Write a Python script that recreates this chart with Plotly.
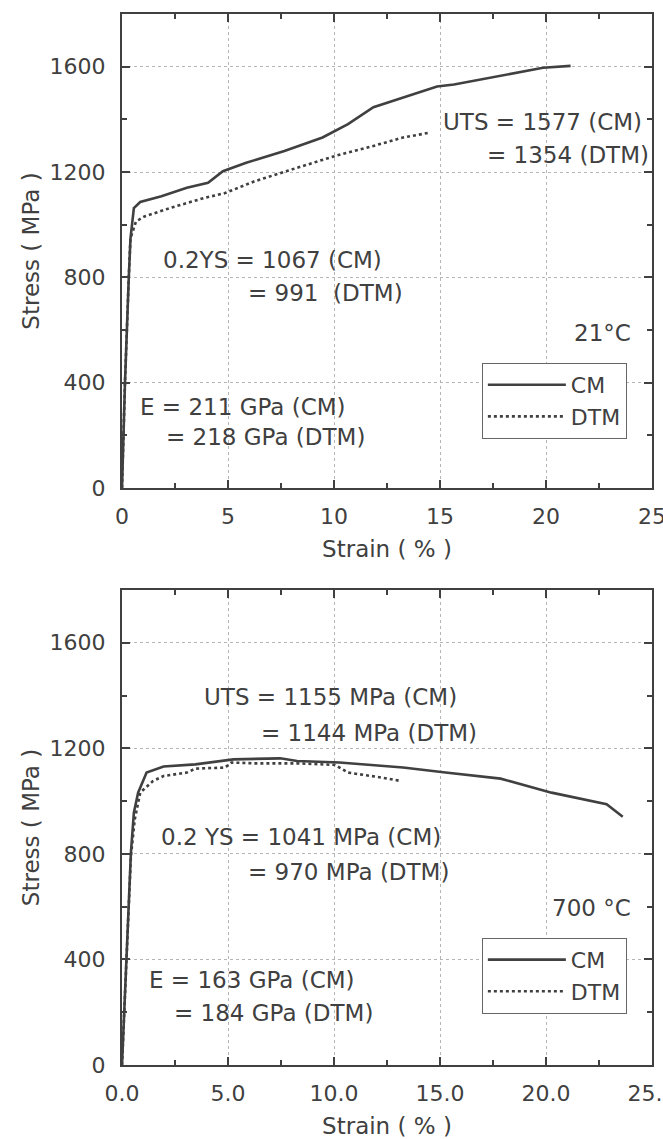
import plotly.graph_objects as go

# ---- data: 21 °C ----
rt_cm_strain = [0.0, 0.14, 0.32, 0.40, 0.56, 0.86, 1.86, 3.06, 4.06, 4.76, 5.86, 7.66, 9.46, 10.66, 11.86, 13.26, 14.86, 15.66, 18.26, 19.86, 21.16]
rt_cm_stress = [0, 400, 800, 948, 1063, 1086, 1108, 1140, 1159, 1203, 1235, 1280, 1331, 1382, 1446, 1484, 1525, 1532, 1573, 1596, 1603]
rt_dtm_strain = [0.0, 0.14, 0.32, 0.40, 0.66, 1.06, 2.26, 3.86, 4.86, 6.26, 8.26, 10.06, 11.86, 13.26, 14.56]
rt_dtm_stress = [0, 400, 800, 948, 1012, 1031, 1063, 1101, 1120, 1165, 1216, 1261, 1299, 1331, 1350]

# ---- data: 700 °C ----
ht_cm_strain = [0.0, 0.2, 0.42, 0.56, 0.76, 1.16, 1.96, 3.46, 5.26, 7.46, 8.26, 10.26, 13.26, 15.26, 17.86, 20.26, 22.86, 23.62]
ht_cm_stress = [0, 400, 804, 956, 1032, 1108, 1131, 1139, 1158, 1162, 1152, 1146, 1127, 1108, 1085, 1032, 988, 941]
ht_dtm_strain = [0.0, 0.2, 0.42, 0.6, 0.86, 1.46, 1.96, 3.06, 3.46, 4.86, 5.16, 6.26, 8.26, 10.06, 10.66, 12.26, 13.16]
ht_dtm_stress = [0, 400, 790, 930, 1032, 1076, 1095, 1108, 1123, 1127, 1146, 1143, 1143, 1137, 1108, 1089, 1076]

series_names = ["CM", "DTM"]
x_ticks = [0, 5, 10, 15, 20, 25]
x_ticklabels_top = ["0", "5", "10", "15", "20", "25"]
x_ticklabels_bot = ["0.0", "5.0", "10.0", "15.0", "20.0", "25.0"]
y_ticks = [0, 400, 800, 1200, 1600]

INK = "#404040"
FONT = "DejaVu Sans"

fig = go.Figure()
fig.add_trace(go.Scatter(x=rt_cm_strain, y=rt_cm_stress, mode="lines", name=series_names[0],
                         line=dict(color=INK, width=2.6, dash="solid"), xaxis="x", yaxis="y", legend="legend"))
fig.add_trace(go.Scatter(x=rt_dtm_strain, y=rt_dtm_stress, mode="lines", name=series_names[1],
                         line=dict(color=INK, width=2.6, dash="dot"), xaxis="x", yaxis="y", legend="legend"))
fig.add_trace(go.Scatter(x=ht_cm_strain, y=ht_cm_stress, mode="lines", name=series_names[0],
                         line=dict(color=INK, width=2.6, dash="solid"), xaxis="x2", yaxis="y2", legend="legend2"))
fig.add_trace(go.Scatter(x=ht_dtm_strain, y=ht_dtm_stress, mode="lines", name=series_names[1],
                         line=dict(color=INK, width=2.6, dash="dot"), xaxis="x2", yaxis="y2", legend="legend2"))

def xaxis(labels, anchor):
    return dict(range=[0, 25], tickvals=x_ticks, ticktext=labels, anchor=anchor, automargin=False,
                showline=True, linecolor=INK, linewidth=2, mirror="allticks",
                ticks="inside", ticklen=8, tickwidth=1.5, tickcolor=INK,
                minor=dict(dtick=2.5, tick0=0, ticks="inside", ticklen=5, tickcolor=INK, showgrid=False),
                showgrid=True, gridcolor="#b5b5b5", griddash="dot", gridwidth=1,
                zeroline=False, ticklabelstandoff=8, ticklabeloverflow="allow",
                tickfont=dict(family=FONT, size=22, color=INK),
                title=dict(text="Strain ( % )", font=dict(family=FONT, size=23, color=INK), standoff=12))

def yaxis(domain, anchor):
    return dict(range=[0, 1800], tickvals=y_ticks, domain=domain, anchor=anchor, automargin=False,
                showline=True, linecolor=INK, linewidth=2, mirror="allticks",
                ticks="inside", ticklen=8, tickwidth=1.5, tickcolor=INK,
                minor=dict(dtick=200, tick0=0, ticks="inside", ticklen=5, tickcolor=INK, showgrid=False),
                showgrid=True, gridcolor="#b5b5b5", griddash="dot", gridwidth=1,
                zeroline=False, ticklabelstandoff=10, ticklabeloverflow="allow",
                tickfont=dict(family=FONT, size=22, color=INK),
                title=dict(text="Stress ( MPa )", font=dict(family=FONT, size=23, color=INK), standoff=4))

ann_font = dict(family=FONT, size=23, color=INK)
def ann(x, y, text, xref, yref, anchor="left"):
    return dict(x=x, y=y, xref=xref, yref=yref, text=text, showarrow=False,
                xanchor=anchor, yanchor="middle", font=ann_font)

annotations = [
    ann(24.6, 1390, "UTS = 1577 (CM)", "x", "y", "right"),
    ann(24.95, 1264, "= 1354 (DTM)", "x", "y", "right"),
    ann(1.84, 866, "0.2YS = 1067 (CM)", "x", "y"),
    ann(5.85, 740, "= 991  (DTM)", "x", "y"),
    ann(24.1, 589, "21°C", "x", "y", "right"),
    ann(0.75, 308, "E = 211 GPa (CM)", "x", "y"),
    ann(1.98, 194, "= 218 GPa (DTM)", "x", "y"),
    ann(3.77, 1394, "UTS = 1155 MPa (CM)", "x2", "y2"),
    ann(6.46, 1258, "= 1144 MPa (DTM)", "x2", "y2"),
    ann(1.75, 864, "0.2 YS = 1041 MPa (CM)", "x2", "y2"),
    ann(5.85, 731, "= 970 MPa (DTM)", "x2", "y2"),
    ann(24.1, 595, "700 °C", "x2", "y2", "right"),
    ann(1.18, 322, "E = 163 GPa (CM)", "x2", "y2"),
    ann(2.36, 197, "= 184 GPa (DTM)", "x2", "y2"),
]

legend_style = dict(bordercolor="#666666", borderwidth=1, bgcolor="white",
                    font=dict(family=FONT, size=22, color=INK), xanchor="left", yanchor="top",
                    tracegroupgap=0, itemwidth=78)

fig.update_layout(
    width=663, height=1139,
    margin=dict(l=122, r=11, t=14, b=74, autoexpand=False),
    paper_bgcolor="white", plot_bgcolor="white",
    xaxis=xaxis(x_ticklabels_top, "y"),
    yaxis=yaxis([0.549, 1.0], "x"),
    xaxis2=xaxis(x_ticklabels_bot, "y2"),
    yaxis2=yaxis([0.0, 0.452], "x2"),
    annotations=annotations,
    legend=dict(x=0.679, y=0.668, **legend_style),
    legend2=dict(x=0.679, y=0.121, **legend_style),
    showlegend=True,
)

fig.write_html("out.html")
